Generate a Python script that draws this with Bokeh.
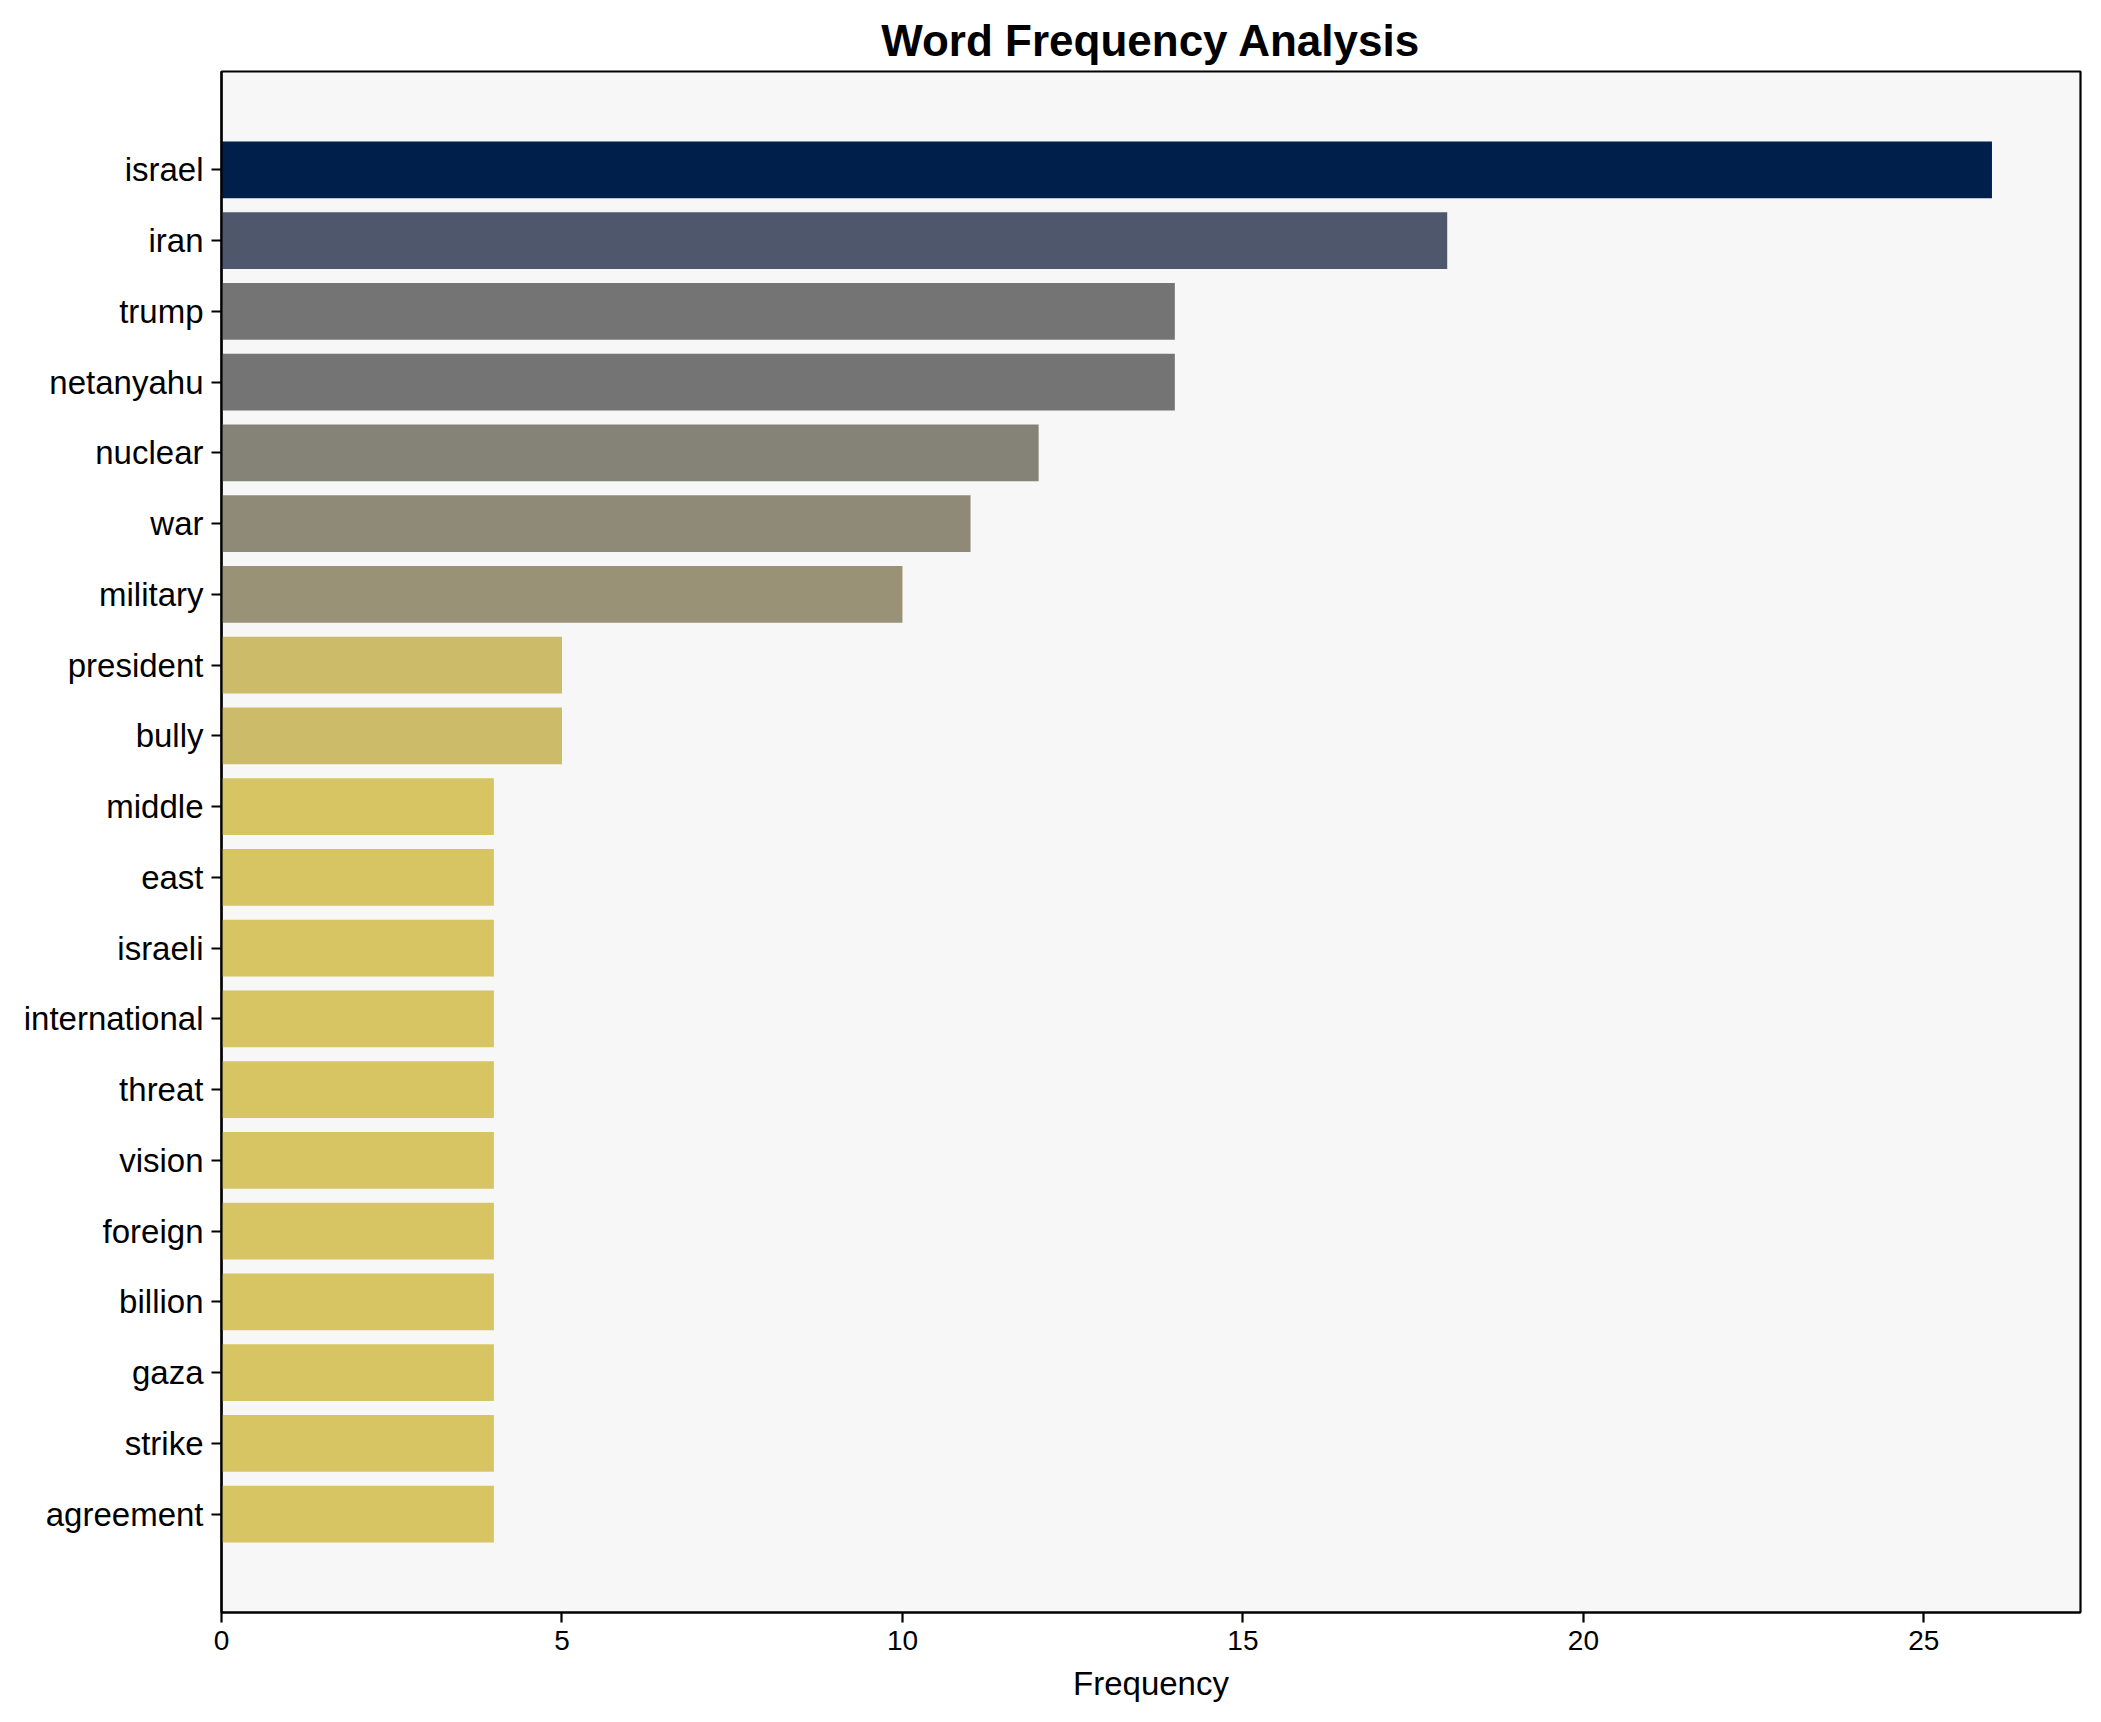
from bokeh.plotting import figure
from bokeh.models import Range1d, FixedTicker, ColumnDataSource
from bokeh.palettes import Cividis256
from bokeh.embed import file_html
from bokeh.resources import INLINE

words = ["israel", "iran", "trump", "netanyahu", "nuclear", "war", "military",
         "president", "bully", "middle", "east", "israeli", "international",
         "threat", "vision", "foreign", "billion", "gaza", "strike", "agreement"]
counts = [26, 18, 14, 14, 12, 11, 10, 5, 5, 4, 4, 4, 4, 4, 4, 4, 4, 4, 4, 4]
x_ticks = [0, 5, 10, 15, 20, 25]

vmax = max(counts)
colors = []
for c in counts:
    t = 1 - c / vmax
    idx = min(255, int(t * 256))
    colors.append(Cividis256[idx])

ypos = list(range(len(words)))
src = ColumnDataSource(dict(y=ypos, right=counts, color=colors, word=words))

FONT = "Liberation Sans"
n = len(words)
pad = (n - 1 + 0.8) * 0.05
p = figure(width=2093, height=1714, output_backend="svg", toolbar_location=None,
           x_range=Range1d(0, vmax * 1.05),
           y_range=Range1d(n - 1 + 0.4 + pad, -0.4 - pad),
           min_border_left=221, min_border_right=13,
           min_border_top=71, min_border_bottom=102)

p.hbar(y="y", left=0, right="right", height=0.8, color="color", source=src, line_color=None)

p.title.text = "Word Frequency Analysis"
p.title.text_font = FONT
p.title.text_font_size = "44px"
p.title.text_font_style = "bold"
p.title.align = "center"
p.title.text_color = "black"
p.title.standoff = 14

p.background_fill_color = "#f7f7f7"
p.border_fill_color = "white"
p.outline_line_color = "black"
p.outline_line_width = 2.2
p.xgrid.visible = False
p.ygrid.visible = False

xa = p.xaxis[0]
xa.ticker = FixedTicker(ticks=x_ticks)
xa.minor_tick_line_color = None
xa.major_tick_out = 10
xa.major_tick_in = 0
xa.major_tick_line_width = 2.2
xa.axis_line_width = 2.2
xa.major_label_text_font = FONT
xa.major_label_text_font_size = "28px"
xa.major_label_text_color = "black"
xa.major_label_standoff = 8
xa.axis_label = "Frequency"
xa.axis_label_text_font = FONT
xa.axis_label_text_font_size = "33px"
xa.axis_label_text_font_style = "normal"
xa.axis_label_text_color = "black"
xa.axis_label_standoff = 12

ya = p.yaxis[0]
ya.ticker = FixedTicker(ticks=ypos)
ya.major_label_overrides = {i: w for i, w in enumerate(words)}
ya.minor_tick_line_color = None
ya.major_tick_out = 10
ya.major_tick_in = 0
ya.major_tick_line_width = 2.2
ya.axis_line_width = 2.2
ya.major_label_text_font = FONT
ya.major_label_text_font_size = "33px"
ya.major_label_text_color = "black"
ya.major_label_standoff = 8

open("out.html", "w").write(file_html(p, INLINE))
